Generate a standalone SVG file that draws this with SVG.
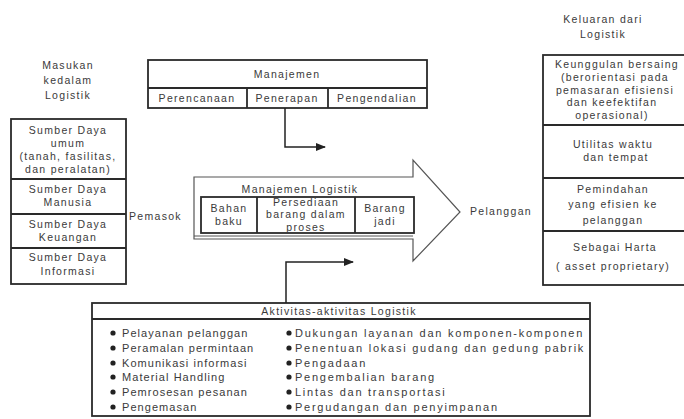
<svg xmlns="http://www.w3.org/2000/svg" width="684" height="419" viewBox="0 0 684 419">
  <defs>
    <marker id="arr" viewBox="0 0 10 10" refX="9" refY="5" markerWidth="7" markerHeight="7" orient="auto">
      <path d="M0,1 L10,5 L0,9 Z" fill="#222"/>
    </marker>
    <style>
      text { font-family: "Liberation Sans", Arial, sans-serif; font-size: 10.5px; fill: #3a3a3a; letter-spacing: 1.3px; }
      .c { text-anchor: middle; }
      .l1 { font-size: 11px; letter-spacing: 1.05px; }
      .l2 { font-size: 11px; letter-spacing: 1.75px; }
      .box { fill: #fff; stroke: #2a2a2a; stroke-width: 1.8; }
      .div { stroke: #2a2a2a; stroke-width: 1.8; fill: none; }
      .thin { fill: #fff; stroke: #555; stroke-width: 1.2; }
      .link { stroke: #222; stroke-width: 1.5; fill: none; }
      .dot { fill: #222; }
    </style>
  </defs>
  <rect width="684" height="419" fill="#fff"/>

  <!-- inputs -->
  <g id="inputs-title">
    <text class="c" x="68" y="69">Masukan</text>
    <text class="c" x="68" y="84">kedalam</text>
    <text class="c" x="68" y="99">Logistik</text>
  </g>
  <g id="inputs">
    <rect class="box" x="11" y="119" width="115" height="165"/>
    <line class="div" x1="11" y1="179" x2="126" y2="179"/>
    <line class="div" x1="11" y1="214" x2="126" y2="214"/>
    <line class="div" x1="11" y1="248" x2="126" y2="248"/>
    <text class="c" x="68" y="134">Sumber Daya</text>
    <text class="c" x="68" y="147">umum</text>
    <text class="c" x="68" y="160">(tanah, fasilitas,</text>
    <text class="c" x="68" y="173">dan peralatan)</text>
    <text class="c" x="68" y="193">Sumber Daya</text>
    <text class="c" x="68" y="206">Manusia</text>
    <text class="c" x="68" y="228">Sumber Daya</text>
    <text class="c" x="68" y="241">Keuangan</text>
    <text class="c" x="68" y="261">Sumber Daya</text>
    <text class="c" x="68" y="275">Informasi</text>
  </g>
  <g id="pemasok">
    <text x="129" y="220">Pemasok</text>
  </g>

  <!-- management -->
  <g id="manajemen">
    <rect class="box" x="148" y="60" width="279" height="48"/>
    <line class="div" x1="148" y1="88" x2="427" y2="88"/>
    <line class="div" x1="247" y1="88" x2="247" y2="108"/>
    <line class="div" x1="328" y1="88" x2="328" y2="108"/>
    <text class="c" x="287" y="78">Manajemen</text>
    <text class="c" x="197" y="102">Perencanaan</text>
    <text class="c" x="287" y="102">Penerapan</text>
    <text class="c" x="377" y="102">Pengendalian</text>
  </g>

  <!-- logistics management arrow -->
  <g id="manajemen-logistik">
    <path class="thin" d="M194,177 H413 V160 L460,212 L413,261 V239 H194 Z"/>
    <line x1="194" y1="236" x2="413" y2="236" stroke="#555" stroke-width="1"/>
    <rect class="box" x="201" y="197" width="213" height="36"/>
    <line class="div" x1="257" y1="197" x2="257" y2="233"/>
    <line class="div" x1="355" y1="197" x2="355" y2="233"/>
    <text class="c" x="300" y="193">Manajemen Logistik</text>
    <text class="c" x="229" y="212">Bahan</text>
    <text class="c" x="229" y="225">baku</text>
    <text class="c" x="306" y="206">Persediaan</text>
    <text class="c" x="306" y="218">barang dalam</text>
    <text class="c" x="306" y="231">proses</text>
    <text class="c" x="385" y="212">Barang</text>
    <text class="c" x="385" y="225">jadi</text>
  </g>

  <g id="pelanggan">
    <text x="470" y="215">Pelanggan</text>
  </g>

  <!-- outputs -->
  <g id="outputs-title">
    <text class="c" x="603" y="23">Keluaran dari</text>
    <text class="c" x="603" y="38">Logistik</text>
  </g>
  <g id="outputs">
    <rect class="box" x="543" y="55" width="142" height="230"/>
    <line class="div" x1="543" y1="125" x2="684" y2="125"/>
    <line class="div" x1="543" y1="178" x2="684" y2="178"/>
    <line class="div" x1="543" y1="231" x2="684" y2="231"/>
    <text class="c" x="617" y="68">Keunggulan bersaing</text>
    <text class="c" x="615" y="81">(berorientasi pada</text>
    <text class="c" x="615" y="94">pemasaran efisiensi</text>
    <text class="c" x="612" y="106">dan keefektifan</text>
    <text class="c" x="612" y="119">operasional)</text>
    <text class="c" x="613" y="148">Utilitas waktu</text>
    <text class="c" x="616" y="161">dan tempat</text>
    <text class="c" x="613" y="193">Pemindahan</text>
    <text class="c" x="613" y="208">yang efisien ke</text>
    <text class="c" x="613" y="224">pelanggan</text>
    <text class="c" x="615" y="251">Sebagai Harta</text>
    <text class="c" x="613" y="270">( asset proprietary)</text>
  </g>

  <!-- logistics activities -->
  <g id="aktivitas">
    <clipPath id="actClip"><rect x="92" y="303" width="497" height="116"/></clipPath>
    <rect class="box" x="92" y="303" width="498" height="113"/>
    <line class="div" x1="92" y1="319" x2="590" y2="319"/>
    <text class="c" x="339" y="315">Aktivitas-aktivitas Logistik</text>
    <g class="dot">
      <circle cx="113" cy="333" r="2.6"/>
      <circle cx="113" cy="348" r="2.6"/>
      <circle cx="113" cy="363" r="2.6"/>
      <circle cx="113" cy="377" r="2.6"/>
      <circle cx="113" cy="392" r="2.6"/>
      <circle cx="113" cy="407" r="2.6"/>
      <circle cx="289" cy="333" r="2.6"/>
      <circle cx="289" cy="348" r="2.6"/>
      <circle cx="289" cy="363" r="2.6"/>
      <circle cx="289" cy="377" r="2.6"/>
      <circle cx="289" cy="392" r="2.6"/>
      <circle cx="289" cy="407" r="2.6"/>
    </g>
    <text class="l1" x="122" y="337">Pelayanan pelanggan</text>
    <text class="l1" x="122" y="352">Peramalan permintaan</text>
    <text class="l1" x="122" y="367">Komunikasi informasi</text>
    <text class="l1" x="122" y="381">Material Handling</text>
    <text class="l1" x="122" y="396">Pemrosesan pesanan</text>
    <text class="l1" x="122" y="411">Pengemasan</text>
    <g clip-path="url(#actClip)">
      <text class="l2" x="295" y="337">Dukungan layanan dan komponen-komponen</text>
      <text class="l2" x="295" y="352">Penentuan lokasi gudang dan gedung pabrik</text>
      <text class="l2" x="295" y="367">Pengadaan</text>
      <text class="l2" x="295" y="381">Pengembalian barang</text>
      <text class="l2" x="295" y="396">Lintas dan transportasi</text>
      <text class="l2" x="295" y="411">Pergudangan dan penyimpanan</text>
    </g>
  </g>

  <!-- connectors -->
  <g id="connectors">
    <path class="link" d="M285,108 V147 H325" marker-end="url(#arr)"/>
    <path class="link" d="M286,303 V262 H353" marker-end="url(#arr)"/>
  </g>
</svg>
